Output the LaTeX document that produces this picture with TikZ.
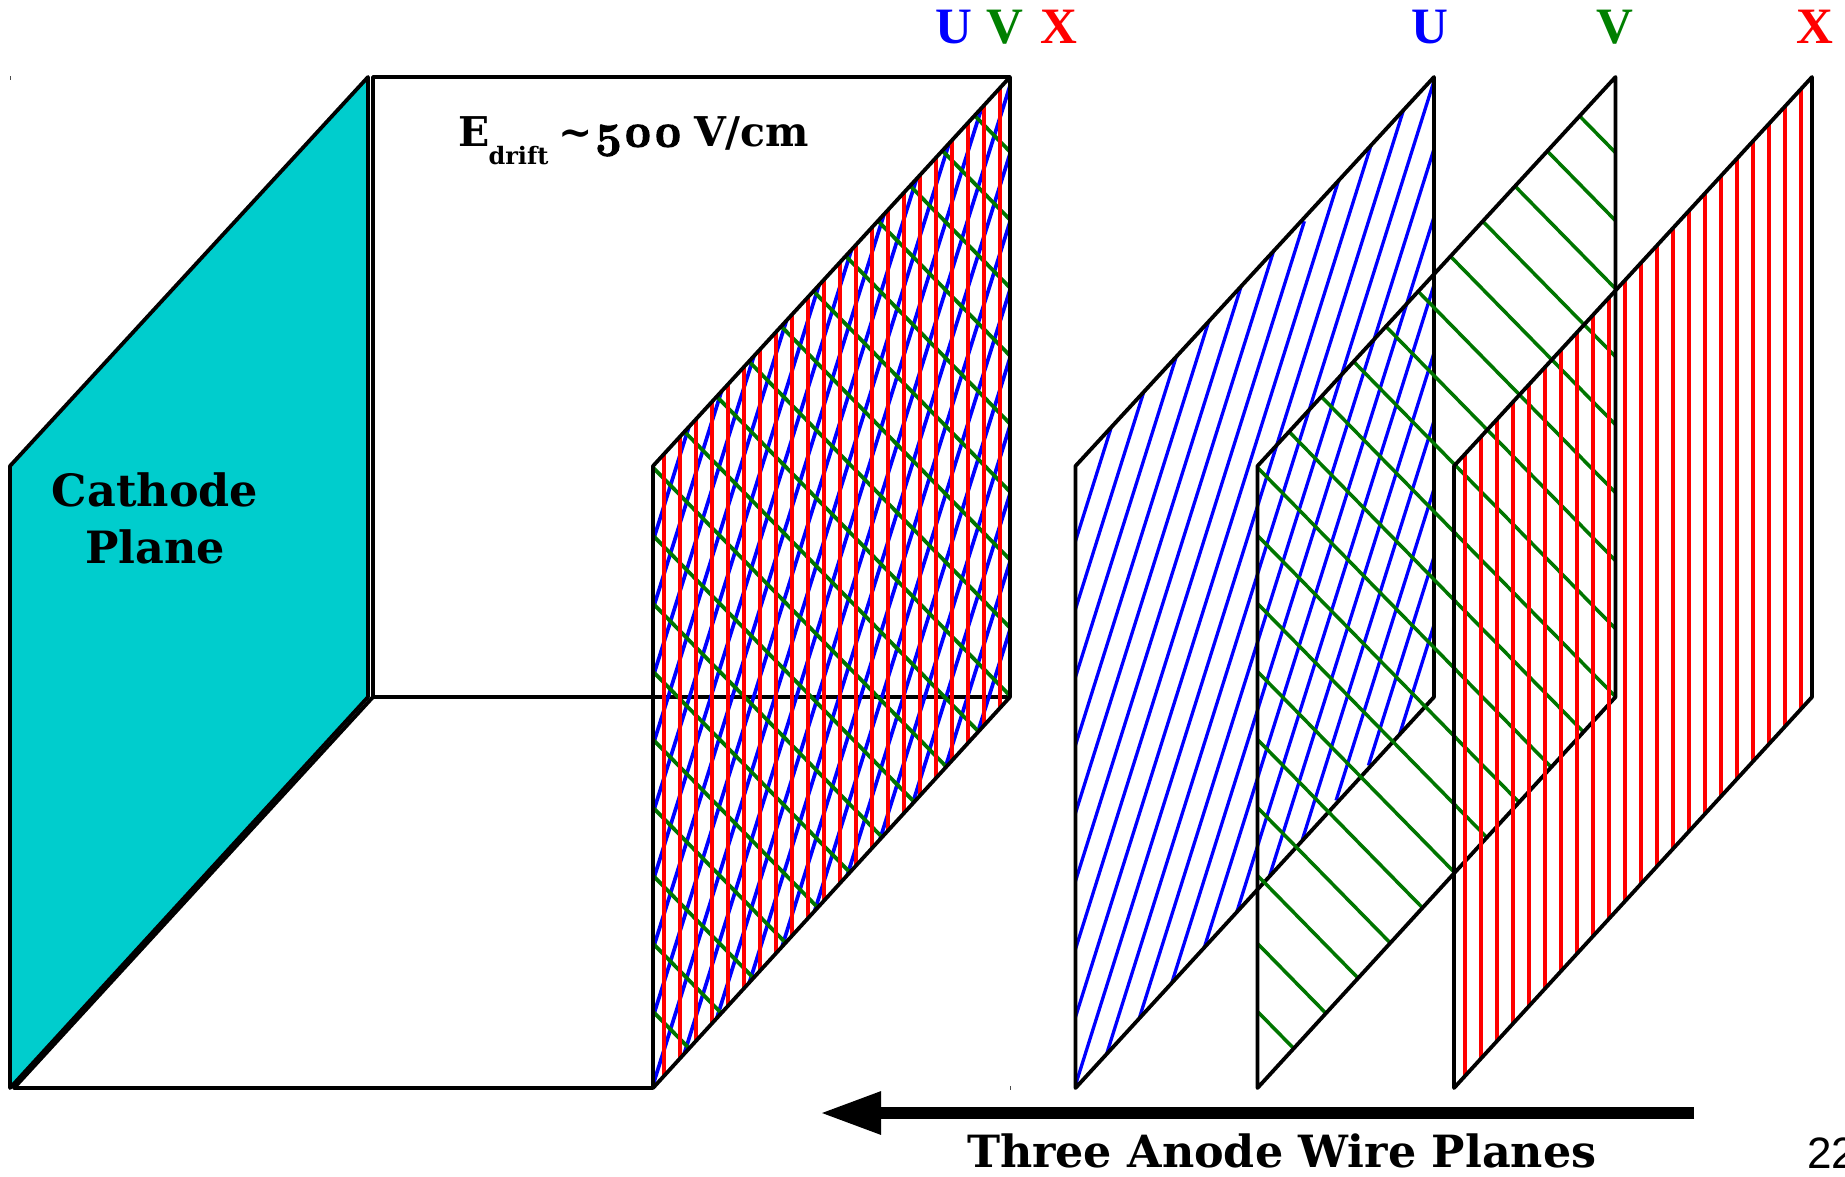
\documentclass[tikz,border=0pt]{standalone}
\usepackage{fontspec}
\usetikzlibrary{arrows.meta}
\newfontfamily\labelfont{DejaVu Serif}
\newfontfamily\uvxfont{Liberation Serif}
\newfontfamily\numfont[Numbers=OldStyle,FakeBold=2.5]{Latin Modern Roman}
\definecolor{cathodecol}{RGB}{0,205,205}
\definecolor{wireU}{RGB}{0,0,255}
\definecolor{wireV}{RGB}{0,118,0}
\definecolor{wireX}{RGB}{255,0,0}
\definecolor{textV}{RGB}{0,128,0}
\tikzset{
  edgeline/.style={draw=black,line width=3.8pt,line join=round},
  uwire/.style={draw=wireU,line width=3.3pt},
  vwire/.style={draw=wireV,line width=3.5pt},
  xwire/.style={draw=wireX,line width=3.3pt},
  lbl/.style={inner sep=0pt,outer sep=0pt,anchor=base,font=\labelfont\bfseries\fontsize{44.5}{50}\selectfont},
  planelbl/.style={inner sep=0pt,outer sep=0pt,anchor=base,font=\uvxfont\bfseries\fontsize{51}{52}\selectfont},
}
\newcommand{\wiresU}[1]{%
  \begin{scope}\clip (0,466) -- (#1,77) -- (#1,697) -- (0,1088) -- cycle;
  \foreach \k in {0,...,18}{\draw[uwire] (-50,{541+68*\k+159}) -- ({#1+50},{541+68*\k-3.18*(#1+50)});}
  \end{scope}}
\newcommand{\wiresV}[1]{%
  \begin{scope}\clip (0,466) -- (#1,77) -- (#1,697) -- (0,1088) -- cycle;
  \foreach \k in {0,...,18}{\draw[vwire] (-50,{1011.5-68*\k-51}) -- ({#1+50},{1011.5-68*\k+1.02*(#1+50)});}
  \end{scope}}
\newcommand{\wiresX}[1]{%
  \begin{scope}\clip (0,466) -- (#1,77) -- (#1,697) -- (0,1088) -- cycle;
  \foreach \k in {0,...,21}{\draw[xwire] ({11+16*\k},0) -- ({11+16*\k},1176);}
  \end{scope}}
\newcommand{\planeframe}[1]{%
  \draw[edgeline] (#1,697) -- (0,1088) -- (0,466) -- (#1,77) -- cycle;}
\begin{document}
\begin{tikzpicture}[x=1pt,y=-1pt]
\useasboundingbox (0,0) rectangle (1845,1176);
\clip (0,0) rectangle (1845,1176);
% cathode
\fill[cathodecol] (10,466) -- (368,77) -- (368,697) -- (10,1088) -- cycle;
\draw[edgeline] (10,466) -- (368,77) -- (368,697) -- (10,1088) -- cycle;
% drift volume
\draw[edgeline] (373,697) -- (373,77) -- (1010,77);
\draw[edgeline] (373,697) -- (1010,697);
\draw[edgeline] (373,697) -- (14,1088) -- (653,1088);
% combined anode plane
\begin{scope}[shift={(653,0)},
    uwire/.append style={line width=3.7pt},
    vwire/.append style={line width=3.8pt},
    xwire/.append style={line width=3.4pt}]
  \wiresU{357}\wiresV{357}\wiresX{357}\planeframe{357}
\end{scope}
% separate planes
\begin{scope}[shift={(1075.5,0)}]
  \wiresU{358.5}
  \fill[white] (258,808) circle (8);
  \fill[white] (290.5,773) circle (8);
  \fill[white] (230,216.6) circle (5);
  \planeframe{358.5}
\end{scope}
\begin{scope}[shift={(1257.5,0)}]
  \wiresV{358}\planeframe{358}
\end{scope}
\begin{scope}[shift={(1454,0)}]
  \wiresX{358}\planeframe{358}
\end{scope}
% ticks
\draw[black!70,line width=1pt] (10,76) -- (10,80);
\draw[black!70,line width=1pt] (1010,1086) -- (1010,1090);
% arrow
\coordinate (arrowstart) at (1694,1113);
\coordinate (arrowend) at (820,1113);
\draw[line width=12pt,-{Triangle[length=61pt,width=40pt]}] (arrowstart) -- (arrowend);
% labels
\node[lbl] (cath) at (155,506) {Cathode};
\node[lbl] (plane) at (155,563) {Plane};
\node[lbl,anchor=base west,font=\labelfont\bfseries\fontsize{41}{44}\selectfont] (edrift) at (458,146.5)
  {\makebox[30.5pt][l]{E}\makebox[69.5pt][l]{\raisebox{-18pt}{\fontsize{24}{26}\selectfont drift}}\makebox[36pt][l]{\textasciitilde}\makebox[100pt][l]{\numfont\fontsize{47}{47}\selectfont 500}V/cm};
\node[planelbl,text=wireU] (u1) at (954,43) {U};
\node[planelbl,text=textV] (v1) at (1005,43) {V};
\node[planelbl,text=wireX] (x1) at (1059,43) {X};
\node[planelbl,text=wireU] (u2) at (1430,43) {U};
\node[planelbl,text=textV] (v2) at (1615,43) {V};
\node[planelbl,text=wireX] (x2) at (1815,43) {X};
\node[lbl,anchor=base west,font=\labelfont\bfseries\fontsize{44.4}{46}\selectfont] (three) at (967,1167) {Three Anode Wire Planes};
\node[inner sep=0pt,anchor=base west,font=\fontspec{Liberation Sans}\fontsize{44}{46}\selectfont] (pagenum) at (1807,1168) {22};
\end{tikzpicture}
\end{document}
